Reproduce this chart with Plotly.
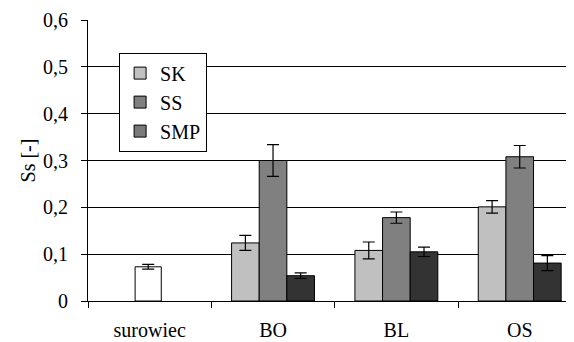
import plotly.graph_objects as go

categories = ["surowiec", "BO", "BL", "OS"]
group_cats = ["BO", "BL", "OS"]
raw_value = [0.073]
raw_err = [0.005]
sk = [0.124, 0.108, 0.201]
sk_err = [0.016, 0.018, 0.0135]
ss = [0.300, 0.178, 0.308]
ss_err = [0.034, 0.012, 0.024]
smp = [0.054, 0.105, 0.081]
smp_err = [0.006, 0.010, 0.016]
y_ticks = [0, 0.1, 0.2, 0.3, 0.4, 0.5, 0.6]
y_ticktext = ["0", "0,1", "0,2", "0,3", "0,4", "0,5", "0,6"]

FONT = "Liberation Serif, Times New Roman, Times, serif"
FS = 20
bw = 0.224
line = dict(color="black", width=1)
err_style = dict(type="data", visible=True, color="black", thickness=1.2, width=6)

fig = go.Figure()
fig.add_trace(go.Bar(x=["surowiec"], y=raw_value, width=0.212, offset=-0.118,
                     marker=dict(color="white", line=line), showlegend=False,
                     error_y=dict(array=raw_err, **err_style)))
fig.add_trace(go.Bar(name="SK", x=group_cats, y=sk, width=bw, offset=-1.5 * bw,
                     marker=dict(color="#c0c0c0", line=line),
                     error_y=dict(array=sk_err, **err_style)))
fig.add_trace(go.Bar(name="SS", x=group_cats, y=ss, width=bw, offset=-0.5 * bw,
                     marker=dict(color="#808080", line=line),
                     error_y=dict(array=ss_err, **err_style)))
fig.add_trace(go.Bar(name="SMP", x=group_cats, y=smp, width=bw, offset=0.5 * bw,
                     marker=dict(color="#333333", line=line), showlegend=False,
                     legendgroup="smp",
                     error_y=dict(array=smp_err, **err_style)))
# legend swatch for SMP is drawn mid-grey in the reference
fig.add_trace(go.Bar(name="SMP", x=[None], y=[None], legendgroup="smp",
                     marker=dict(color="#7a7a7a", line=line)))

# page body has an 8px default margin, so the figure is sized to fit the window
fig.update_layout(
    width=566, height=334,
    margin=dict(l=80, r=0, t=12, b=41),
    barmode="overlay",
    plot_bgcolor="white", paper_bgcolor="white",
    font=dict(family=FONT, size=FS, color="black"),
    legend=dict(x=0.064, y=0.884, xanchor="left", yanchor="top",
                bordercolor="black", borderwidth=1, bgcolor="white",
                font=dict(family=FONT, size=FS), traceorder="normal"),
    xaxis=dict(type="category", categoryorder="array", categoryarray=categories,
               range=[-0.5, 3.44], showline=True, linecolor="black", linewidth=1,
               ticks="outside", tickson="boundaries", ticklen=6, tickcolor="black",
               ticklabelstandoff=11,
               showgrid=False, automargin=False),
    yaxis=dict(range=[0, 0.6], tickvals=y_ticks, ticktext=y_ticktext,
               showline=True, linecolor="black", linewidth=1,
               ticks="outside", ticklen=6, tickcolor="black",
               ticklabelstandoff=9,
               showgrid=True, gridcolor="black", gridwidth=1, zeroline=False,
               automargin=False,
               title=dict(text="Ss [-]", font=dict(family=FONT, size=FS), standoff=2)),
)

fig.write_html("out.html")
